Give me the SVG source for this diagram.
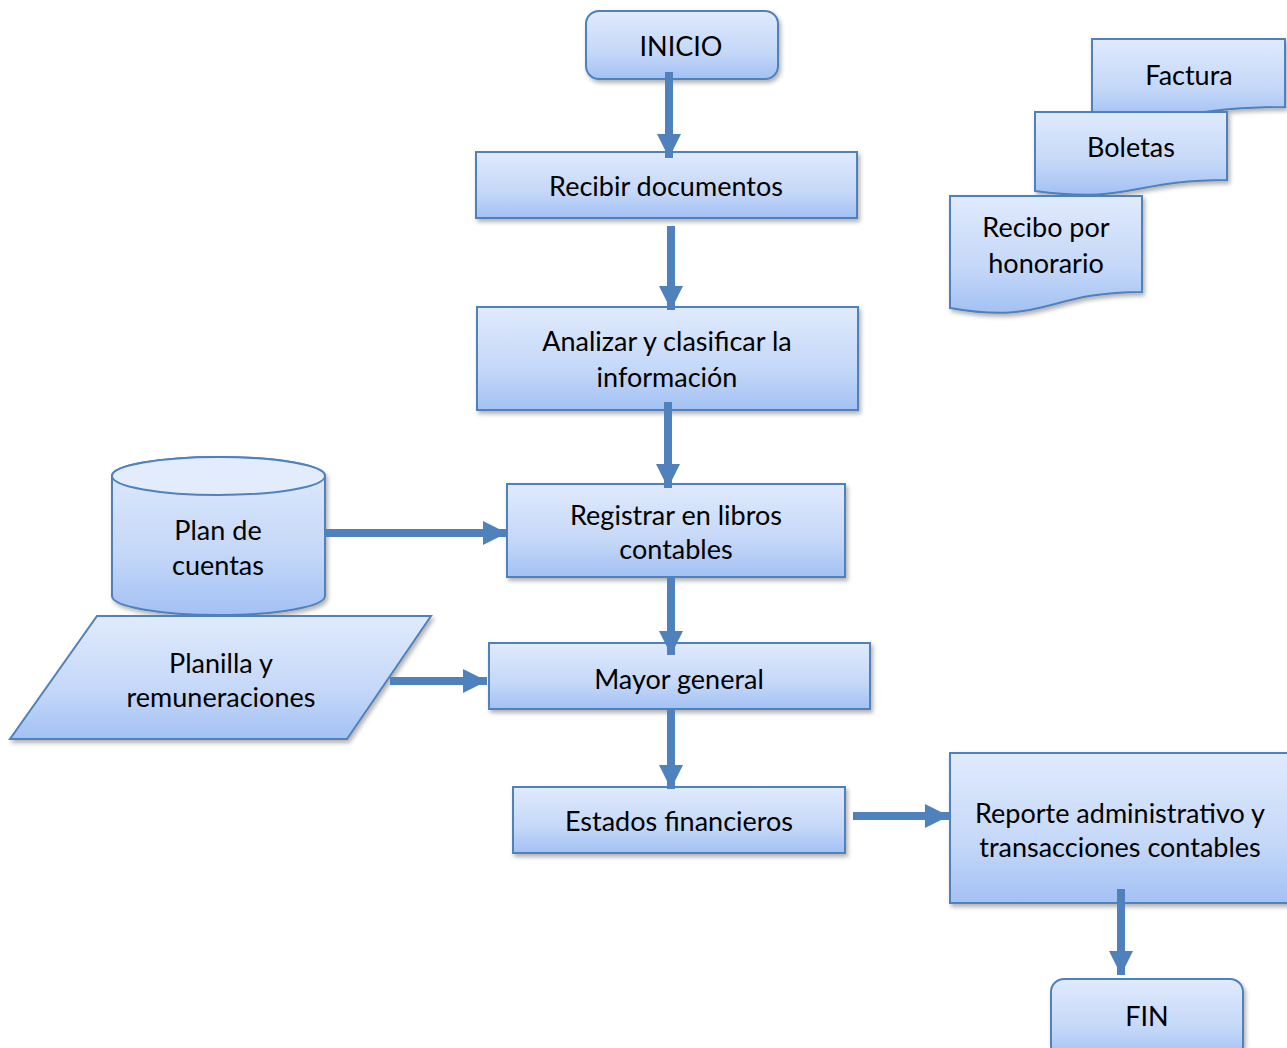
<svg xmlns="http://www.w3.org/2000/svg" width="1287" height="1048" viewBox="0 0 1287 1048">
<defs>
<linearGradient id="g" x1="0" y1="0" x2="0" y2="1">
<stop offset="0" stop-color="#e0eafc"/>
<stop offset="0.6" stop-color="#c5d8f8"/>
<stop offset="1" stop-color="#a3c1f4"/>
</linearGradient>
<filter id="sh" x="-10%" y="-10%" width="130%" height="130%">
<feDropShadow dx="2" dy="3" stdDeviation="2" flood-color="#000" flood-opacity="0.3"/>
</filter>
<marker id="ah" markerUnits="userSpaceOnUse" markerWidth="26" markerHeight="26" refX="24" refY="12" orient="auto">
<path d="M0,0 L24,12 L0,24 Z" fill="#4f81bd"/>
</marker>
</defs>
<style>
.n{fill:url(#g);stroke:#4f81bd;stroke-width:2;filter:url(#sh)}
.t{font-family:Lato,"Open Sans",sans-serif;font-size:27px;fill:#000;text-anchor:middle;dominant-baseline:central}
.c line{stroke:#4f81bd;stroke-width:8;marker-end:url(#ah)}
</style>
<g id="inicio"><rect class="n" x="586" y="11" width="192" height="68" rx="13"/><text class="t" x="681" y="45">INICIO</text></g>
<g id="recibir"><rect class="n" x="476" y="152" width="381" height="66"/><text class="t" x="666" y="185">Recibir documentos</text></g>
<g id="analizar"><rect class="n" x="477" y="307" width="381" height="103"/><text class="t" x="667" y="340">Analizar y clasificar la</text><text class="t" x="667" y="376">información</text></g>
<g id="registrar"><rect class="n" x="507" y="484" width="338" height="93"/><text class="t" x="676" y="514">Registrar en libros</text><text class="t" x="676" y="548">contables</text></g>
<g id="mayor"><rect class="n" x="489" y="643" width="381" height="66"/><text class="t" x="679" y="678">Mayor general</text></g>
<g id="estados"><rect class="n" x="513" y="787" width="332" height="66"/><text class="t" x="679" y="820">Estados financieros</text></g>
<g id="reporte"><rect class="n" x="950" y="753" width="345" height="150"/><text class="t" x="1120" y="812">Reporte administrativo y</text><text class="t" x="1120" y="846">transacciones contables</text></g>
<g id="fin"><rect class="n" x="1051" y="979" width="192" height="80" rx="13"/><text class="t" x="1147" y="1015">FIN</text></g>
<g id="plan"><path class="n" d="M112,476 V596 A106.5,19 0 0 0 325,596 V476 A106.5,19 0 0 0 112,476 Z"/><ellipse cx="218.5" cy="476" rx="106.5" ry="19" fill="#e3ecfc" stroke="#4f81bd" stroke-width="2"/><text class="t" x="218" y="529">Plan de</text><text class="t" x="218" y="564">cuentas</text></g>
<g id="planilla"><polygon class="n" points="97,616 431,616 347,739 10,739"/><text class="t" x="221" y="662">Planilla y</text><text class="t" x="221" y="696">remuneraciones</text></g>
<g id="factura"><path class="n" d="M1092,39 H1285 V107 C1188,107 1188,123 1092,118 Z"/><text class="t" x="1189" y="74">Factura</text></g>
<g id="boletas"><path class="n" d="M1035,112 H1227 V180 C1131,180 1131,204 1035,191 Z"/><text class="t" x="1131" y="146">Boletas</text></g>
<g id="recibo"><path class="n" d="M950,196 H1142 V292 C1046,292 1046,325 950,308 Z"/><text class="t" x="1046" y="226">Recibo por</text><text class="t" x="1046" y="262">honorario</text></g>
<g class="c" id="connectors">
<line x1="669" y1="72" x2="669" y2="158"/>
<line x1="671" y1="226" x2="671" y2="310"/>
<line x1="668" y1="402" x2="668" y2="488"/>
<line x1="671" y1="577" x2="671" y2="655"/>
<line x1="671" y1="709" x2="671" y2="789"/>
<line x1="853" y1="816" x2="949" y2="816"/>
<line x1="1121" y1="889" x2="1121" y2="975"/>
<line x1="325" y1="533" x2="507" y2="533"/>
<line x1="390" y1="681" x2="487" y2="681"/>
</g>
</svg>
